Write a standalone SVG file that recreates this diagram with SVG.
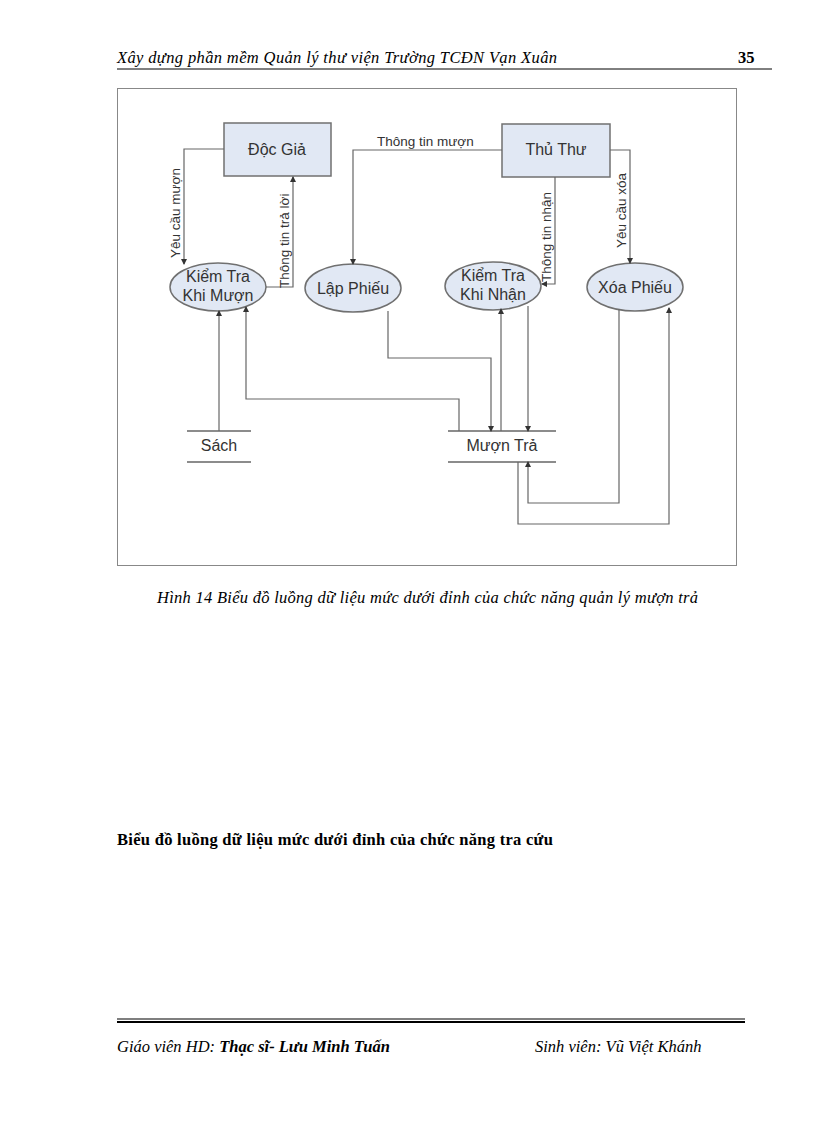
<svg xmlns="http://www.w3.org/2000/svg" width="816" height="1123" viewBox="0 0 816 1123">
<style>
.n{fill:#e1e8f4;stroke:#707070;stroke-width:1.5}
.t{font-family:"Liberation Sans",Arial,sans-serif;font-size:16px;fill:#333;text-anchor:middle}
.s{font-family:"Liberation Sans",Arial,sans-serif;font-size:13.5px;fill:#333}
.c{fill:none;stroke:#666;stroke-width:1.2}
.st{stroke:#666;stroke-width:1.5}
.h{font-family:"Liberation Serif","Times New Roman",serif;font-size:16.5px;fill:#000}
</style>
<defs><marker id="a" markerWidth="6" markerHeight="6" refX="5" refY="3" orient="auto" markerUnits="userSpaceOnUse"><path d="M0,0L6,3L0,6z" fill="#333"/></marker></defs>
<rect width="816" height="1123" fill="#fff"/>
<text class="h" x="117" y="63" font-style="italic" textLength="440">Xây dựng phần mềm Quản lý thư viện Trường TCĐN Vạn Xuân</text>
<text class="h" x="738" y="63" font-weight="bold">35</text>
<line x1="117" y1="69" x2="772" y2="69" stroke="#000" stroke-width="1"/>
<rect x="117.5" y="88.5" width="619" height="477" fill="none" stroke="#888" stroke-width="1"/>
<g id="docgia"><rect class="n" x="224" y="123" width="107" height="53"/><text class="t" x="277" y="155">Độc Giả</text></g>
<g id="thuthu"><rect class="n" x="502" y="124" width="108" height="53"/><text class="t" x="556" y="155">Thủ Thư</text></g>
<g id="ktkm"><ellipse class="n" cx="218" cy="287" rx="48" ry="24"/><text class="t" x="218" y="282">Kiểm Tra</text><text class="t" x="218" y="301">Khi Mượn</text></g>
<g id="lapphieu"><ellipse class="n" cx="353" cy="288" rx="48" ry="24"/><text class="t" x="353" y="294">Lập Phiếu</text></g>
<g id="ktkn"><ellipse class="n" cx="493" cy="286" rx="48" ry="24"/><text class="t" x="493" y="281">Kiểm Tra</text><text class="t" x="493" y="300">Khi Nhận</text></g>
<g id="xoaphieu"><ellipse class="n" cx="635" cy="287" rx="48" ry="24"/><text class="t" x="635" y="293">Xóa Phiếu</text></g>
<g id="sach"><line class="st" x1="187" y1="431" x2="251" y2="431"/><line class="st" x1="187" y1="462" x2="251" y2="462"/><text class="t" x="219" y="451">Sách</text></g>
<g id="muontra"><line class="st" x1="448" y1="431" x2="556" y2="431"/><line class="st" x1="448" y1="462" x2="556" y2="462"/><text class="t" x="502" y="451">Mượn Trả</text></g>
<g id="connectors">
<polyline class="c" points="224,149 184,149 184,264" marker-end="url(#a)"/>
<polyline class="c" points="266,287 293,287 293,177" marker-end="url(#a)"/>
<polyline class="c" points="502,150 353,150 353,264" marker-end="url(#a)"/>
<polyline class="c" points="555,177 555,284 542,284" marker-end="url(#a)"/>
<polyline class="c" points="610,150 630,150 630,263" marker-end="url(#a)"/>
<polyline class="c" points="219,431 219,311" marker-end="url(#a)"/>
<polyline class="c" points="459,431 459,399 246,399 246,307" marker-end="url(#a)"/>
<polyline class="c" points="388,311 388,358 491,358 491,431" marker-end="url(#a)"/>
<polyline class="c" points="501,431 501,309" marker-end="url(#a)"/>
<polyline class="c" points="528,306 528,431" marker-end="url(#a)"/>
<polyline class="c" points="619,309 619,503 528,503 528,462" marker-end="url(#a)"/>
<polyline class="c" points="518,462 518,524 669,524 669,308" marker-end="url(#a)"/>
<text class="s" transform="translate(180,258) rotate(-90)">Yêu cầu mượn</text>
<text class="s" transform="translate(289,288) rotate(-90)">Thông tin trả lời</text>
<text class="s" x="377" y="146">Thông tin mượn</text>
<text class="s" transform="translate(551,282) rotate(-90)">Thông tin nhận</text>
<text class="s" transform="translate(626,248) rotate(-90)">Yêu cầu xóa</text>
</g>
<text class="h" x="157" y="603" font-style="italic" textLength="541">Hình 14 Biểu đồ luồng dữ liệu mức dưới đỉnh của chức năng quản lý mượn trả</text>
<text class="h" x="117" y="845" font-weight="bold" textLength="436">Biểu đồ luồng dữ liệu mức dưới đỉnh của chức năng tra cứu</text>
<line x1="117" y1="1019" x2="745" y2="1019" stroke="#000" stroke-width="1.2"/>
<line x1="117" y1="1022" x2="745" y2="1022" stroke="#000" stroke-width="2"/>
<text class="h" x="117" y="1052" font-style="italic">Giáo viên HD: <tspan font-weight="bold">Thạc sĩ- Lưu Minh Tuấn</tspan></text>
<text class="h" x="535" y="1052" font-style="italic">Sinh viên: Vũ Việt Khánh</text>
</svg>
